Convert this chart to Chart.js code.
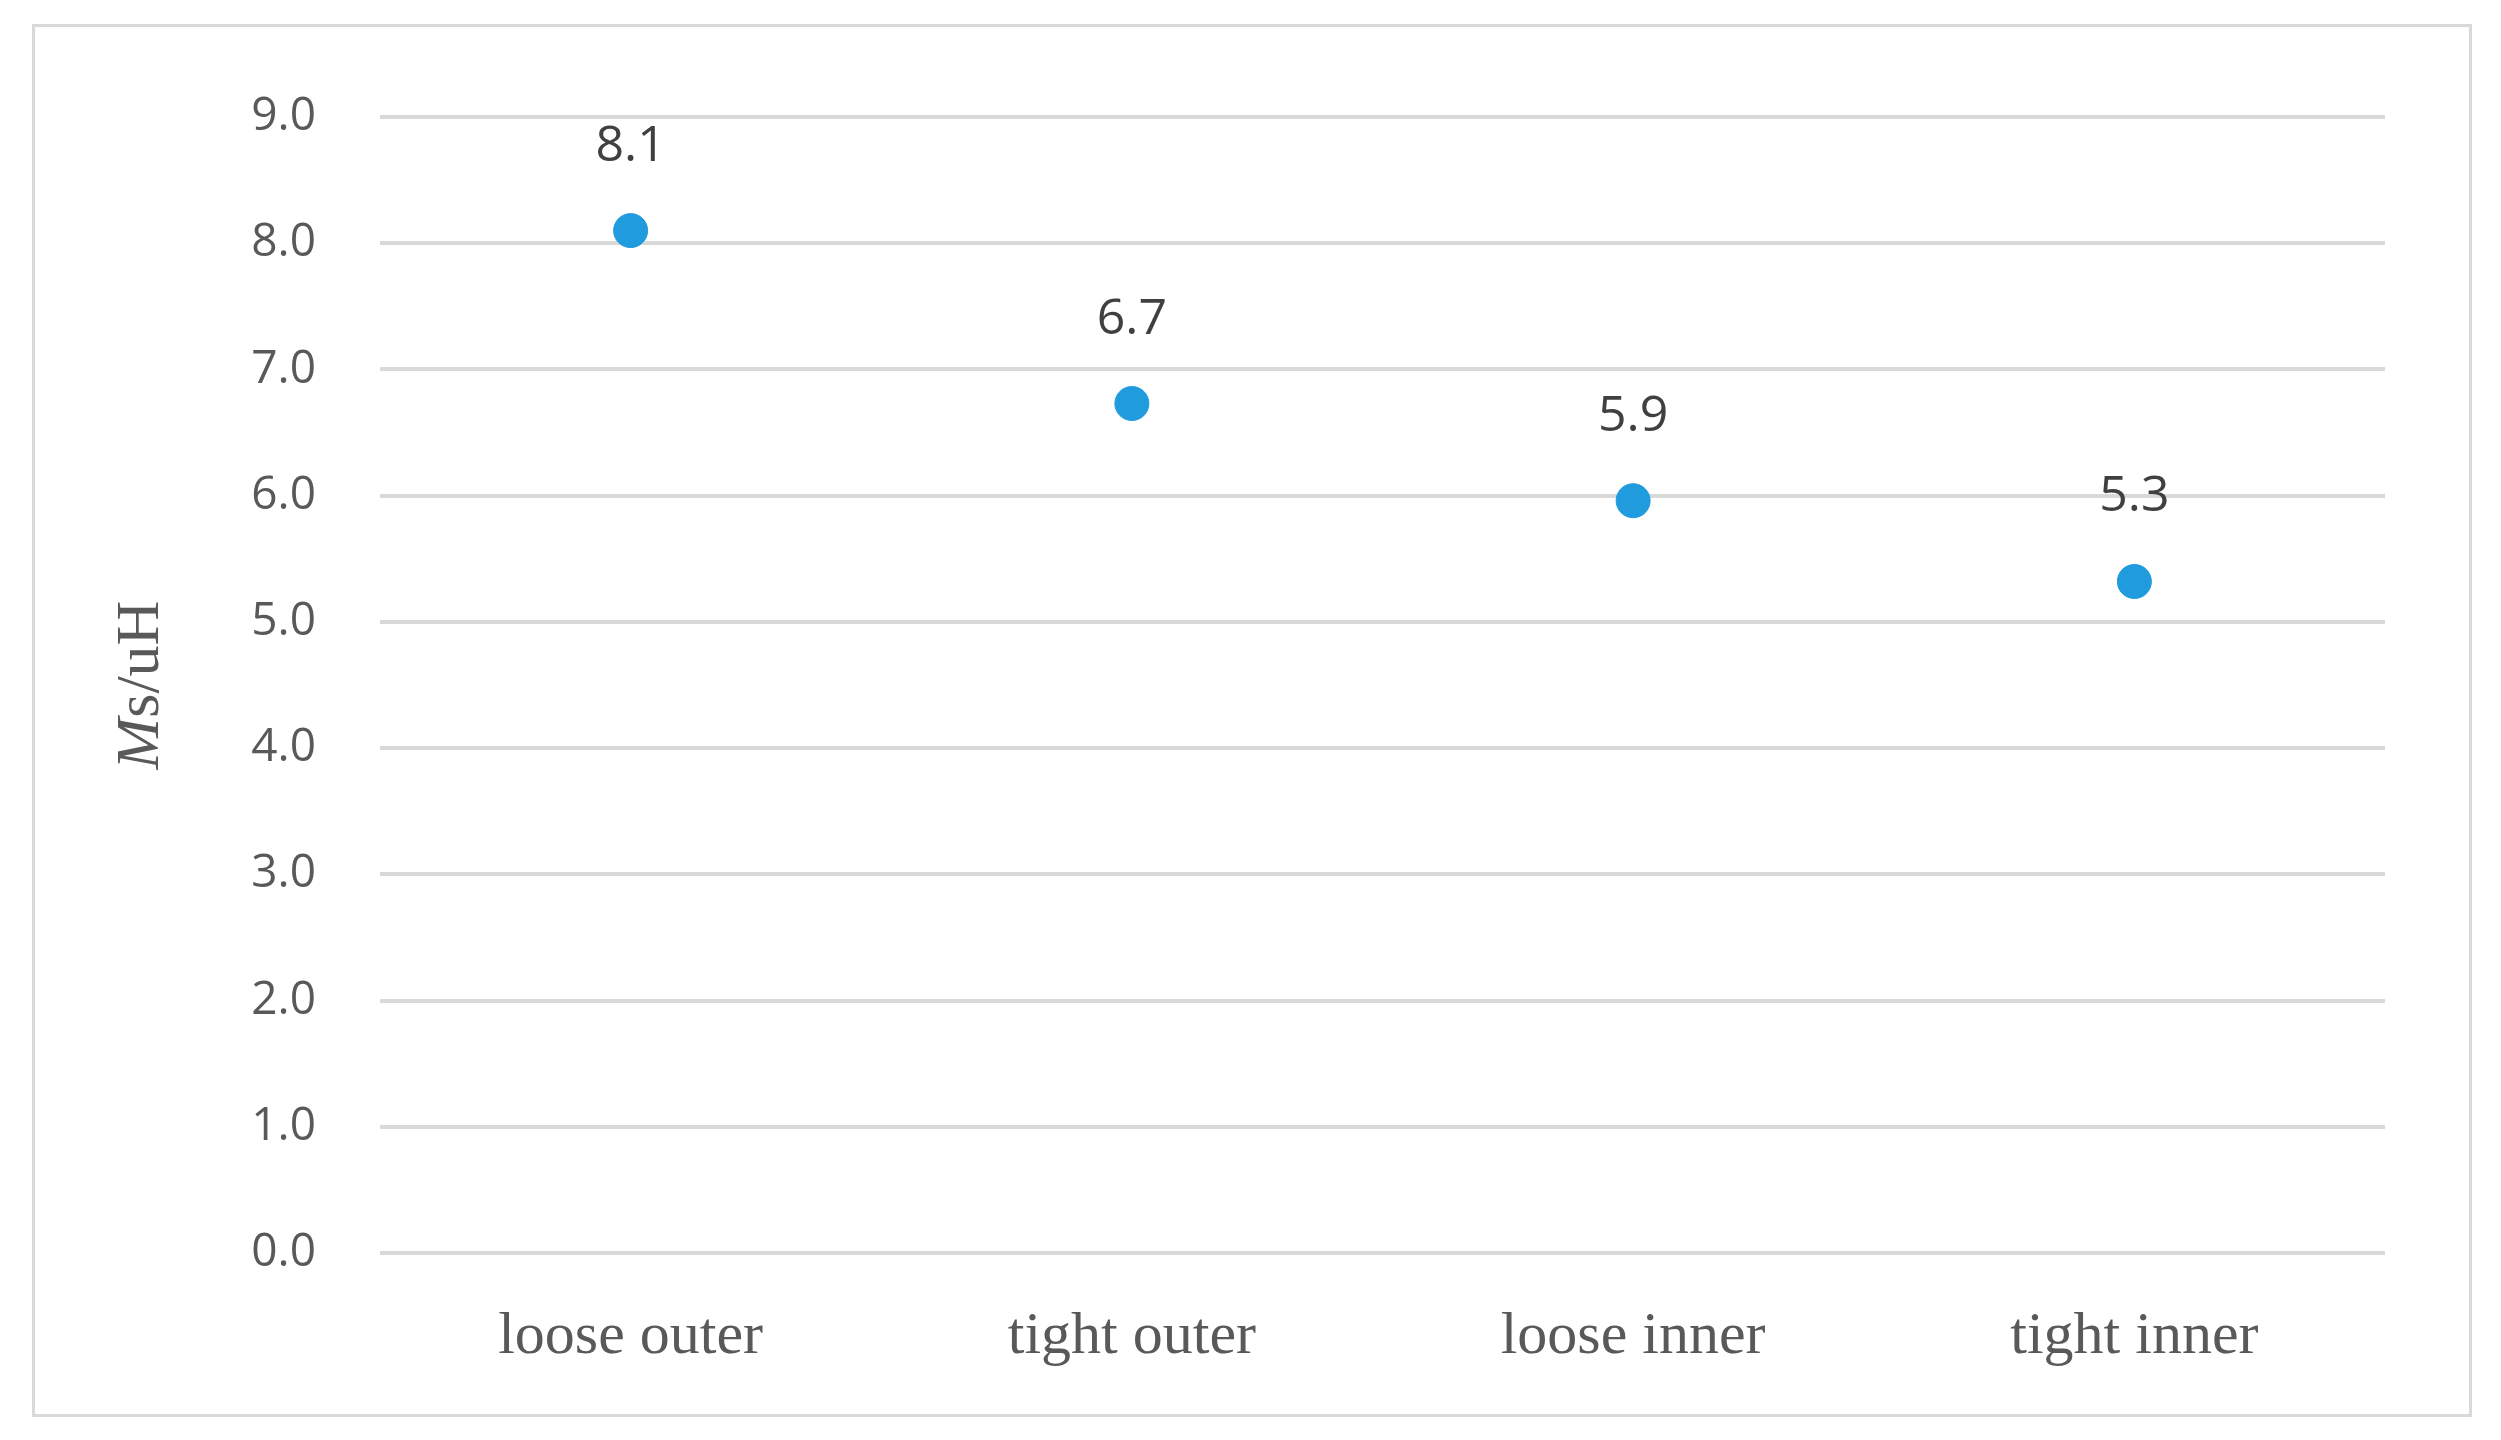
<!DOCTYPE html>
<html>
<head>
<meta charset="utf-8">
<script src="https://cdn.jsdelivr.net/npm/chart.js@4"></script>
<style>
  body { margin: 0; background: #fff; }
  #frame { position: absolute; left: 32px; top: 24px; width: 2434px; height: 1387px; border: 3px solid #d9d9d9; }
  canvas { position: absolute; left: 0; top: 0; }
</style>
</head>
<body>
<div id="frame"></div>
<canvas id="chart" width="2501" height="1440"></canvas>
<script>
const categories = ["loose outer", "tight outer", "loose inner", "tight inner"];
const values = [8.1, 6.73, 5.96, 5.32];
const valueLabels = ["8.1", "6.7", "5.9", "5.3"];
const yTicks = [0, 1, 2, 3, 4, 5, 6, 7, 8, 9];

const colors = {
    blue: "#1f9bde",
    grid: "#d9d9d9",
    tick: "#595959",
    label: "#404040",
};

// value labels above each point
const pointLabels = {
    id: "pointLabels",
    afterDatasetsDraw(chart) {
	const ctx = chart.ctx;
	const meta = chart.getDatasetMeta(0);
	ctx.save();
	ctx.font = "50px 'Open Sans', sans-serif";
	ctx.fillStyle = colors.label;
	ctx.textAlign = "center";
	ctx.textBaseline = "alphabetic";
	meta.data.forEach((pt, i) => {
	    ctx.fillText(valueLabels[i], pt.x, pt.y - 70);
	});
	ctx.restore();
    }
};

// y axis title with italic M
const yTitle = {
    id: "yTitle",
    afterDraw(chart) {
	const ctx = chart.ctx;
	const cy = (chart.chartArea.top + chart.chartArea.bottom) / 2;
	ctx.save();
	ctx.translate(158, cy);
	ctx.rotate(-Math.PI / 2);
	ctx.fillStyle = colors.tick;
	ctx.textBaseline = "alphabetic";
	const italic = "italic 62px 'Liberation Serif', serif";
	const normal = "62px 'Liberation Serif', serif";
	ctx.font = italic;
	const w1 = ctx.measureText("M").width;
	ctx.font = normal;
	const w2 = ctx.measureText("s/uH").width;
	let x = -(w1 + w2) / 2;
	ctx.font = italic;
	ctx.fillText("M", x, 0);
	ctx.font = normal;
	ctx.fillText("s/uH", x + w1, 0);
	ctx.restore();
    }
};

new Chart(document.getElementById("chart"), {
    type: "line",
    data: {
	labels: categories,
	datasets: [{
	    data: values,
	    showLine: false,
	    pointRadius: 17,
	    pointHoverRadius: 17,
	    pointBackgroundColor: colors.blue,
	    pointBorderColor: colors.blue,
	}]
    },
    options: {
	responsive: false,
	animation: false,
	events: [],
	layout: { padding: { top: 117, right: 116, left: 0, bottom: 0 } },
	plugins: { legend: { display: false }, tooltip: { enabled: false } },
	scales: {
	    x: {
		offset: true,
		grid: { display: false },
		border: { display: false },
		ticks: { color: colors.tick, font: { family: "'Liberation Serif', serif", size: 60 }, padding: 40 },
		afterFit(scale) { scale.height = 187; },
	    },
	    y: {
		min: 0, max: 9,
		afterBuildTicks(scale) { scale.ticks = yTicks.map(v => ({ value: v })); },
		grid: { color: colors.grid, lineWidth: 4, drawTicks: false },
		border: { display: false },
		ticks: {
		    color: colors.tick,
		    font: { family: "'Open Sans', sans-serif", size: 46 },
		    padding: 64,
		    callback: v => v.toFixed(1),
		},
		afterFit(scale) { scale.width = 380; },
	    },
	},
    },
    plugins: [pointLabels, yTitle],
});
</script>
</body>
</html>
